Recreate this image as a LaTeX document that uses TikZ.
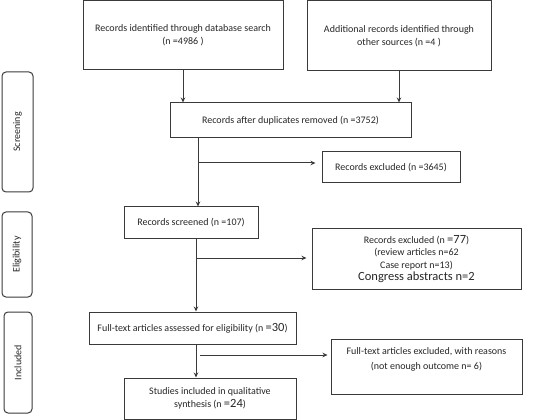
\documentclass[tikz,border=0pt]{standalone}
\usepackage{fontspec}
\setmainfont{Carlito}
\usetikzlibrary{arrows.meta}
\definecolor{ln}{HTML}{3A3A3A}
\begin{document}
\begin{tikzpicture}[x=1pt,y=-1pt,
  box/.style={draw=ln, line width=1pt, align=center, inner sep=2pt, font=\fontsize{10}{13}\selectfont, text=black!85},
  side/.style={draw=ln, line width=1pt, rounded corners=4pt, rotate=90, font=\fontsize{10}{11}\selectfont, text=black!85},
  arr/.style={draw=ln, line width=1pt, -{Stealth[length=5pt,width=4.5pt]}}]
\useasboundingbox (0,0) rectangle (550,420);
% side labels
\node[side, minimum width=120, minimum height=31] (scr) at (17.5,132) {Screening};
\node[side, minimum width=85, minimum height=30] (eli) at (17,254.5) {Eligibility};
\node[side, minimum width=101, minimum height=28] (inc) at (18,362.5) {Included};
% boxes
\node[box, minimum width=200, minimum height=69] (b1) at (183,35.5) {Records identified through database search\\(n =4986 )};
\node[box, minimum width=184, minimum height=70] (b2) at (399,36) {Additional records identified through\\other sources (n =4 )};
\node[box, minimum width=241, minimum height=35] (b3) at (290.5,120.5) {Records after duplicates removed (n =3752)};
\node[box, minimum width=138, minimum height=31] (e1) at (391,167.5) {Records excluded (n =3645)};
\node[box, minimum width=134, minimum height=32] (s1) at (191,223) {Records screened (n =107)};
\node[box, minimum width=209, minimum height=60, font=\fontsize{10}{12.4}\selectfont] (e2) at (416.5,259) {Records excluded (n {\fontsize{12.5}{12.4}\selectfont =77})\\(review articles n=62\\Case report n=13)\\{\fontsize{12.5}{12.4}\selectfont Congress abstracts n=2}};
\node[box, minimum width=207, minimum height=32] (f1) at (192.5,328) {Full-text articles assessed for eligibility (n {\fontsize{12.5}{13}\selectfont =30})};
\node[box, minimum width=191, minimum height=55, font=\fontsize{10}{15.5}\selectfont] (e3) at (426.5,366.5) {Full-text articles excluded, with reasons\\(not enough outcome n= 6)\\\mbox{}};
\node[box, minimum width=172, minimum height=41] (st) at (210,398.5) {Studies included in qualitative\\synthesis (n {\fontsize{12.5}{13}\selectfont =24})};
% connectors
\coordinate (c1) at (198,163);
\coordinate (c2) at (196,258);
\coordinate (c3) at (196,355);
\draw[arr] (b1.south) -- (b1.south |- b3.north);
\draw[arr] (b2.south) -- (b2.south |- b3.north);
\draw[arr] (b3.south -| c1) -- (s1.north -| c1);
\draw[arr, shorten >=6pt] (c1) -- (e1.west |- c1);
\draw[arr] (s1.south -| c2) -- (f1.north -| c2);
\draw[arr, shorten >=5pt] (c2) -- (e2.west |- c2);
\draw[arr] (f1.south -| c3) -- (st.north -| c3);
\draw[arr, line width=0.6pt, shorten >=3pt] ([xshift=4pt]c3) -- (e3.west |- c3);
\end{tikzpicture}
\end{document}
